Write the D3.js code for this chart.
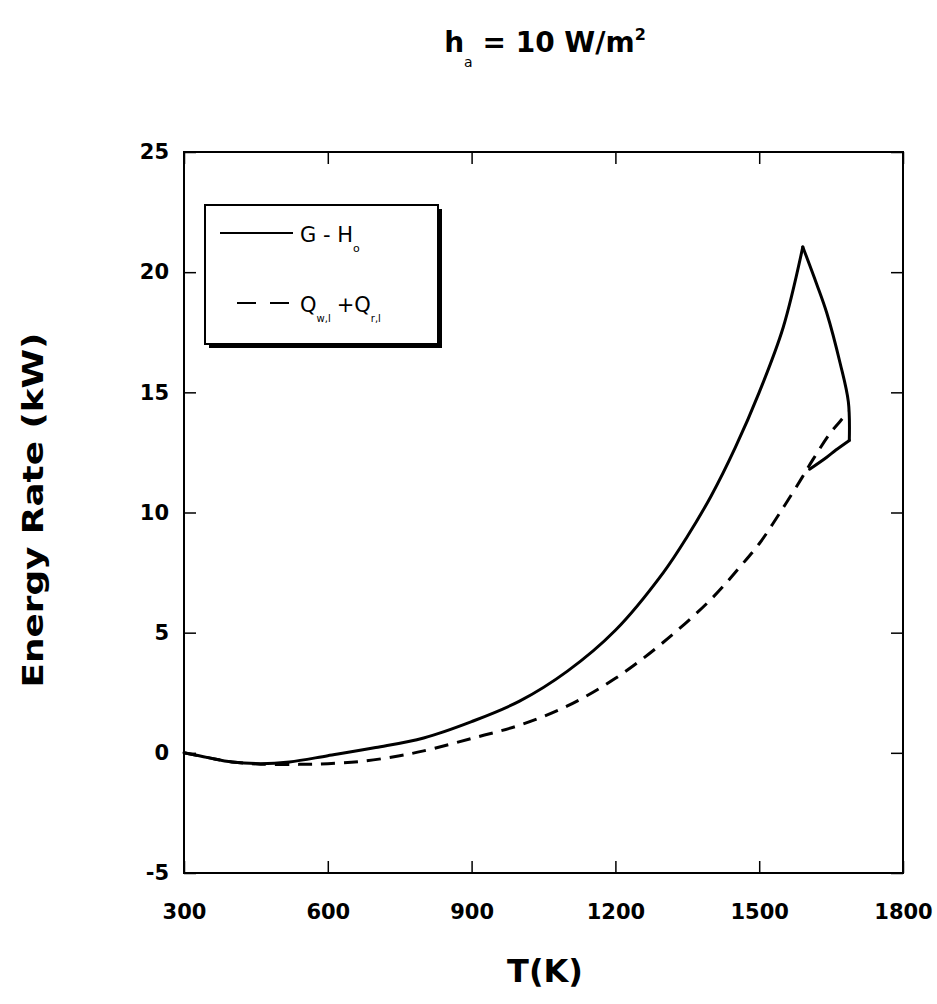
<!DOCTYPE html>
<html>
<head>
<meta charset="utf-8">
<script src="https://cdn.jsdelivr.net/npm/d3@7"></script>
<style>
  body { margin: 0; background: #fff; }
  text, tspan { font-family: "DejaVu Sans", "Liberation Sans", Arial, sans-serif; fill: #000; }
</style>
</head>
<body>
<div id="chart"></div>
<script>
// G - H_o (solid): rising branch up to the peak
var riseT = [300, 350, 400, 460, 520, 600, 700, 800, 900, 1000, 1100, 1200, 1300, 1350, 1400, 1450, 1500, 1550, 1591];
var riseE = [0, -0.2, -0.38, -0.45, -0.38, -0.12, 0.22, 0.62, 1.3, 2.15, 3.4, 5.1, 7.5, 9.0, 10.7, 12.7, 15.0, 17.7, 21.05];
// G - H_o (solid): falling branch after the peak
var fallT = [1591, 1620, 1641, 1669, 1686, 1688];
var fallE = [21.05, 19.5, 18.3, 16.2, 14.6, 13.0];
// G - H_o (solid): return branch
var backT = [1688, 1660, 1641, 1605];
var backE = [13.0, 12.6, 12.3, 11.8];

// Q_w,l + Q_r,l (dashed)
var dashT = [300, 350, 400, 460, 540, 600, 670, 750, 800, 900, 1000, 1100, 1200, 1300, 1400, 1460, 1500, 1550, 1589, 1612, 1648, 1669, 1686];
var dashE = [0, -0.2, -0.38, -0.47, -0.48, -0.45, -0.36, -0.12, 0.08, 0.6, 1.15, 1.95, 3.1, 4.6, 6.4, 7.74, 8.7, 10.2, 11.44, 12.2, 13.3, 13.8, 14.2];

var xTicks = [300, 600, 900, 1200, 1500, 1800];
var yTicks = [-5, 0, 5, 10, 15, 20, 25];

var margin = {top: 152, left: 184, right: 34, bottom: 131};
var width = 937 - margin.left - margin.right;
var height = 1004 - margin.top - margin.bottom;

var root = d3.select("#chart")
    .append("svg")
    .attr("width", 937)
    .attr("height", 1004);

var svg = root.append("g")
    .attr("transform", "translate(" + margin.left + "," + margin.top + ")");

// scale
var x = d3.scaleLinear().domain([300, 1800]).range([0, width]);
var y = d3.scaleLinear().domain([-5, 25]).range([height, 0]);

var fmt = function (d) { return String(d); };

// axes, ticks pointing inward
svg.append("g")
    .attr("class", "x axis")
    .attr("transform", "translate(0," + height + ")")
    .call(d3.axisBottom(x).tickValues(xTicks).tickSize(-12).tickPadding(31).tickFormat(fmt));

svg.append("g")
    .attr("class", "y axis")
    .call(d3.axisLeft(y).tickValues(yTicks).tickSize(-12).tickPadding(15).tickFormat(fmt));

svg.append("g")
    .attr("class", "x2 axis")
    .call(d3.axisTop(x).tickValues(xTicks).tickSize(-12).tickFormat(""));

svg.append("g")
    .attr("class", "y2 axis")
    .attr("transform", "translate(" + width + ",0)")
    .call(d3.axisRight(y).tickValues(yTicks).tickSize(-12).tickFormat(""));

svg.selectAll(".axis .domain").remove();
svg.selectAll(".axis line").attr("stroke", "#000").attr("stroke-width", 1.5);
svg.selectAll(".axis text")
    .attr("font-family", "DejaVu Sans")
    .style("font-size", "21px")
    .style("font-weight", "bold")
    .attr("fill", "#000");

// frame
svg.append("rect")
    .attr("width", width)
    .attr("height", height)
    .attr("fill", "none")
    .attr("stroke", "#000")
    .attr("stroke-width", 2);

// curves
function pts(ts, es) { return ts.map(function (t, i) { return {t: t, e: es[i]}; }); }

var line = d3.line()
    .x(d => x(d.t))
    .y(d => y(d.e))
    .curve(d3.curveCatmullRom.alpha(0.5));

svg.append("path")
    .datum(pts(dashT, dashE))
    .attr("fill", "none")
    .attr("stroke", "#000")
    .attr("stroke-width", 3)
    .attr("stroke-dasharray", "14,9")
    .attr("d", line);

[pts(riseT, riseE), pts(fallT, fallE), pts(backT, backE)].forEach(function (seg) {
    svg.append("path")
        .datum(seg)
        .attr("fill", "none")
        .attr("stroke", "#000")
        .attr("stroke-width", 3)
        .attr("stroke-linejoin", "round")
        .attr("stroke-linecap", "round")
        .attr("d", line);
});

// legend
var lg = root.append("g").attr("class", "legend");
lg.append("rect")
    .attr("x", 209).attr("y", 209)
    .attr("width", 233).attr("height", 139)
    .attr("fill", "#000");
lg.append("rect")
    .attr("x", 205).attr("y", 205)
    .attr("width", 233).attr("height", 139)
    .attr("fill", "#fff")
    .attr("stroke", "#000")
    .attr("stroke-width", 2);

lg.append("line")
    .attr("x1", 220).attr("x2", 293)
    .attr("y1", 233).attr("y2", 233)
    .attr("stroke", "#000").attr("stroke-width", 2);
lg.append("line")
    .attr("x1", 237).attr("x2", 293)
    .attr("y1", 303).attr("y2", 303)
    .attr("stroke", "#000").attr("stroke-width", 2)
    .attr("stroke-dasharray", "19,14");

var t1 = lg.append("text").attr("x", 300).attr("y", 242).style("font-size", "21px");
t1.append("tspan").attr("fill", "#000").text("G - H");
t1.append("tspan").attr("fill", "#000").attr("dy", 10).style("font-size", "11px").text("o");

var t2 = lg.append("text").attr("x", 300).attr("y", 312).style("font-size", "21px");
t2.append("tspan").attr("fill", "#000").text("Q");
t2.append("tspan").attr("fill", "#000").attr("dy", 10).style("font-size", "10px").text("w,l");
t2.append("tspan").attr("fill", "#000").attr("dy", -10).attr("dx", 6).text("+Q");
t2.append("tspan").attr("fill", "#000").attr("dy", 10).style("font-size", "10px").text("r,l");

// title
var title = root.append("text")
    .attr("x", 545).attr("y", 52)
    .attr("text-anchor", "middle")
    .style("font-size", "28px")
    .style("font-weight", "bold");
title.append("tspan").attr("fill", "#000").text("h");
title.append("tspan").attr("fill", "#000").attr("dy", 15).style("font-size", "14px").style("font-weight", "normal").text("a");
title.append("tspan").attr("fill", "#000").attr("dy", -15).text(" = 10 W/m");
title.append("tspan").attr("fill", "#000").attr("dy", -12).style("font-size", "16px").text("2");

// axis titles
root.append("text")
    .attr("transform", "translate(43,510) rotate(-90)")
    .attr("text-anchor", "middle")
    .style("font-size", "28px")
    .style("font-weight", "bold")
    .attr("textLength", 355)
    .attr("lengthAdjust", "spacingAndGlyphs")
    .text("Energy Rate (kW)");

root.append("text")
    .attr("x", 545).attr("y", 982)
    .attr("text-anchor", "middle")
    .style("font-size", "32px")
    .style("font-weight", "bold")
    .text("T(K)");
</script>
</body>
</html>
